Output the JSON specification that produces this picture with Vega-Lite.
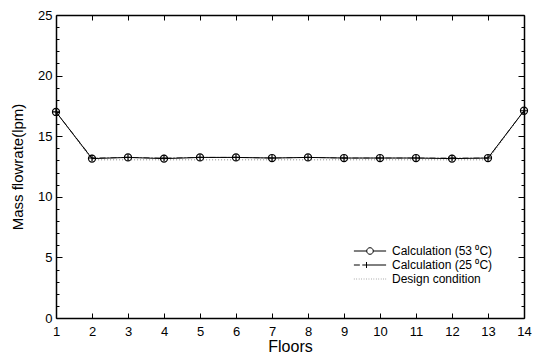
{
  "$schema": "https://vega.github.io/schema/vega-lite/v6.json",
  "width": 468,
  "height": 303,
  "autosize": {"type": "none"},
  "padding": {"left": 56, "top": 15, "right": 16, "bottom": 43},
  "config": {
    "view": {"stroke": null},
    "font": "Liberation Sans",
    "axis": {
      "domainColor": "black",
      "domainWidth": 1.5,
      "tickColor": "black",
      "tickWidth": 1,
      "labelColor": "black",
      "titleColor": "black",
      "labelFont": "Liberation Sans",
      "titleFont": "Liberation Sans",
      "labelFontSize": 13,
      "titleFontSize": 16,
      "titleFontWeight": "normal",
      "grid": false
    },
    "legend": {"labelFont": "Liberation Sans", "labelColor": "black"}
  },
  "data": {
    "values": [
      {"floor": 1, "series": "Calculation (53 ⁰C)", "value": 17.0},
      {"floor": 2, "series": "Calculation (53 ⁰C)", "value": 13.15},
      {"floor": 3, "series": "Calculation (53 ⁰C)", "value": 13.25},
      {"floor": 4, "series": "Calculation (53 ⁰C)", "value": 13.15},
      {"floor": 5, "series": "Calculation (53 ⁰C)", "value": 13.25},
      {"floor": 6, "series": "Calculation (53 ⁰C)", "value": 13.25},
      {"floor": 7, "series": "Calculation (53 ⁰C)", "value": 13.2},
      {"floor": 8, "series": "Calculation (53 ⁰C)", "value": 13.25},
      {"floor": 9, "series": "Calculation (53 ⁰C)", "value": 13.2},
      {"floor": 10, "series": "Calculation (53 ⁰C)", "value": 13.2},
      {"floor": 11, "series": "Calculation (53 ⁰C)", "value": 13.2},
      {"floor": 12, "series": "Calculation (53 ⁰C)", "value": 13.15},
      {"floor": 13, "series": "Calculation (53 ⁰C)", "value": 13.2},
      {"floor": 14, "series": "Calculation (53 ⁰C)", "value": 17.1},
      {"floor": 1, "series": "Calculation (25 ⁰C)", "value": 17.0},
      {"floor": 2, "series": "Calculation (25 ⁰C)", "value": 13.2},
      {"floor": 3, "series": "Calculation (25 ⁰C)", "value": 13.25},
      {"floor": 4, "series": "Calculation (25 ⁰C)", "value": 13.2},
      {"floor": 5, "series": "Calculation (25 ⁰C)", "value": 13.25},
      {"floor": 6, "series": "Calculation (25 ⁰C)", "value": 13.25},
      {"floor": 7, "series": "Calculation (25 ⁰C)", "value": 13.2},
      {"floor": 8, "series": "Calculation (25 ⁰C)", "value": 13.25},
      {"floor": 9, "series": "Calculation (25 ⁰C)", "value": 13.2},
      {"floor": 10, "series": "Calculation (25 ⁰C)", "value": 13.2},
      {"floor": 11, "series": "Calculation (25 ⁰C)", "value": 13.2},
      {"floor": 12, "series": "Calculation (25 ⁰C)", "value": 13.2},
      {"floor": 13, "series": "Calculation (25 ⁰C)", "value": 13.2},
      {"floor": 14, "series": "Calculation (25 ⁰C)", "value": 17.1},
      {"floor": 1, "series": "Design condition", "value": 17.0},
      {"floor": 2, "series": "Design condition", "value": 13.05},
      {"floor": 3, "series": "Design condition", "value": 13.05},
      {"floor": 4, "series": "Design condition", "value": 13.05},
      {"floor": 5, "series": "Design condition", "value": 13.05},
      {"floor": 6, "series": "Design condition", "value": 13.05},
      {"floor": 7, "series": "Design condition", "value": 13.05},
      {"floor": 8, "series": "Design condition", "value": 13.05},
      {"floor": 9, "series": "Design condition", "value": 13.05},
      {"floor": 10, "series": "Design condition", "value": 13.05},
      {"floor": 11, "series": "Design condition", "value": 13.05},
      {"floor": 12, "series": "Design condition", "value": 13.05},
      {"floor": 13, "series": "Design condition", "value": 13.05},
      {"floor": 14, "series": "Design condition", "value": 17.1}
    ]
  },
  "resolve": {"axis": {"x": "independent", "y": "independent"}},
  "layer": [
    {
      "transform": [{"filter": "datum.series === 'Design condition'"}],
      "mark": {"type": "line", "stroke": "#888888", "strokeWidth": 1, "strokeDash": [1, 2]},
      "encoding": {
        "x": {"field": "floor", "type": "quantitative", "scale": {"domain": [1, 14], "nice": false, "zero": false},
          "axis": {"orient": "bottom", "title": "Floors", "titleFontSize": 16, "values": [1,2,3,4,5,6,7,8,9,10,11,12,13,14], "tickSize": -5, "labelPadding": 12, "titlePadding": 0, "labelFlush": false}},
        "y": {"field": "value", "type": "quantitative", "scale": {"domain": [0, 25], "nice": false, "zero": true},
          "axis": {"orient": "left", "title": "Mass flowrate(lpm)", "titleFontSize": 15, "values": [0,1,2,3,4,5,6,7,8,9,10,11,12,13,14,15,16,17,18,19,20,21,22,23,24,25],
            "labelExpr": "datum.value % 5 === 0 ? datum.label : ''",
            "tickSize": {"condition": {"test": "datum.value % 5 === 0", "value": -6}, "value": -3},
            "labelPadding": 10, "titlePadding": 12}}
      }
    },
    {
      "transform": [{"filter": "datum.series === 'Calculation (25 ⁰C)'"}],
      "mark": {"type": "line", "stroke": "#555555", "strokeWidth": 1, "strokeDash": [6, 2, 1, 2]},
      "encoding": {
        "x": {"field": "floor", "type": "quantitative",
          "axis": {"orient": "top", "title": null, "labels": false, "values": [1,2,3,4,5,6,7,8,9,10,11,12,13,14], "tickSize": -5}},
        "y": {"field": "value", "type": "quantitative",
          "axis": {"orient": "right", "title": null, "labels": false, "values": [0,1,2,3,4,5,6,7,8,9,10,11,12,13,14,15,16,17,18,19,20,21,22,23,24,25],
            "tickSize": {"condition": {"test": "datum.value % 5 === 0", "value": -6}, "value": -3}}}
      }
    },
    {
      "transform": [{"filter": "datum.series === 'Calculation (53 ⁰C)'"}],
      "mark": {"type": "line", "stroke": "black", "strokeWidth": 1},
      "encoding": {
        "x": {"field": "floor", "type": "quantitative", "axis": null},
        "y": {"field": "value", "type": "quantitative", "axis": null}
      }
    },
    {
      "transform": [{"filter": "datum.series === 'Calculation (53 ⁰C)'"}],
      "mark": {"type": "point", "shape": "circle", "filled": false, "stroke": "black", "strokeWidth": 1.2, "size": 50, "opacity": 1},
      "encoding": {
        "x": {"field": "floor", "type": "quantitative", "axis": null},
        "y": {"field": "value", "type": "quantitative", "axis": null}
      }
    },
    {
      "transform": [{"filter": "datum.series === 'Calculation (25 ⁰C)'"}],
      "mark": {"type": "point", "shape": "M-1,0H1M0,-1V1", "filled": false, "stroke": "black", "strokeWidth": 1.2, "size": 40, "opacity": 1},
      "encoding": {
        "x": {"field": "floor", "type": "quantitative", "axis": null},
        "y": {"field": "value", "type": "quantitative", "axis": null}
      }
    },
    {
      "mark": {"type": "point", "filled": false, "opacity": 0, "strokeWidth": 1},
      "encoding": {
        "x": {"field": "floor", "type": "quantitative", "axis": null},
        "y": {"field": "value", "type": "quantitative", "axis": null},
        "shape": {"field": "series", "type": "nominal",
          "scale": {"domain": ["Calculation (53 ⁰C)", "Calculation (25 ⁰C)", "Design condition"],
            "range": ["M-4.6,0H-0.94M0.94,0H4.6M0.94,0A0.94,0.94 0 1,1 -0.94,0A0.94,0.94 0 1,1 0.94,0",
                      "M-4.6,0H-2.9M-2.2,0H4.6M-1,-0.86V0.86",
                      "M-4.6,0h0.2M-3.9,0h0.2M-3.2,0h0.2M-2.5,0h0.2M-1.8,0h0.2M-1.1,0h0.2M-0.4,0h0.2M0.3,0h0.2M1.0,0h0.2M1.7,0h0.2M2.4,0h0.2M3.1,0h0.2M3.8,0h0.2M4.4,0h0.2"]},
          "legend": {"title": null, "orient": "none", "legendX": 308, "legendY": 230, "symbolSize": 49, "symbolStrokeWidth": 1, "labelFontSize": 12, "rowPadding": 2, "labelOffset": 16,
            "encode": {"symbols": {"update": {"opacity": {"value": 1}, "strokeOpacity": {"value": 1}}}}}},
        "color": {"field": "series", "type": "nominal",
          "scale": {"domain": ["Calculation (53 ⁰C)", "Calculation (25 ⁰C)", "Design condition"], "range": ["black", "black", "#888888"]},
          "legend": {"title": null, "orient": "none", "legendX": 308, "legendY": 230, "symbolSize": 49, "symbolStrokeWidth": 1, "labelFontSize": 12, "rowPadding": 2, "labelOffset": 16,
            "encode": {"symbols": {"update": {"opacity": {"value": 1}, "strokeOpacity": {"value": 1}}}}}}
      }
    }
  ]
}
